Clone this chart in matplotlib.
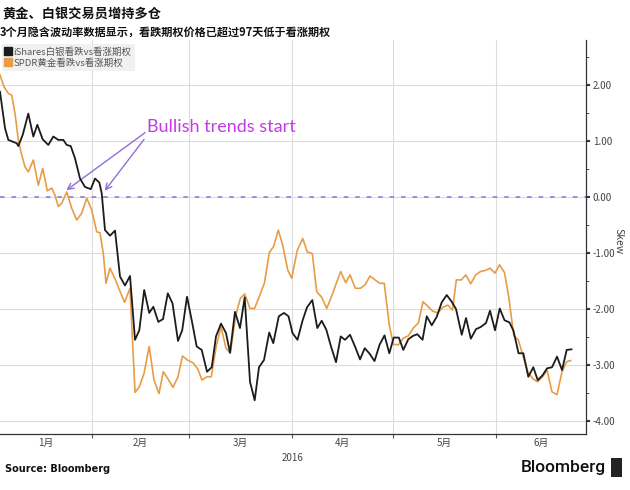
import numpy as np
import pandas as pd
import matplotlib
matplotlib.use("Agg")
import matplotlib.pyplot as plt
from matplotlib.lines import Line2D
from matplotlib.patches import Rectangle

plt.rcParams['font.family'] = ['Noto Sans CJK SC', 'DejaVu Sans']

title = "黄金、白银交易员增持多仓"
subtitle = "3个月隐含波动率数据显示，看跌期权价格已超过97天低于看涨期权"
series_names = ["iShares白银看跌vs看涨期权", "SPDR黄金看跌vs看涨期权"]
month_labels = ["1月", "2月", "3月", "4月", "5月", "6月"]
year_label = "2016"
ylabel = "Skew"
source = "Source: Bloomberg"
annotation = "Bullish trends start"

# days since 2016-01-01 and skew values
silver_days = [3.44, 4.94, 5.93, 8.45, 8.93, 10.24, 11.92, 13.42, 14.62, 16.23, 17.91, 19.41, 20.91,
               22.40, 23.42, 24.62, 25.91, 27.40, 28.90, 30.61, 31.90, 33.18, 33.90, 34.89, 36.39,
               37.89, 39.38, 40.88, 42.38, 43.88, 45.16, 46.63, 48.13, 49.36, 50.86, 52.26, 53.70,
               55.11, 56.75, 58.01, 59.45, 60.86, 62.35, 63.85, 65.44, 66.85, 68.13, 69.63, 71.13,
               72.33, 73.82, 75.32, 76.73, 78.32, 79.72, 81.01, 82.51, 84.07, 85.29, 86.94, 88.50,
               89.85, 91.05, 92.54, 94.04, 95.39, 96.98, 98.47, 99.79, 101.17, 102.58, 104.08,
               105.49, 106.77, 108.27, 109.77, 111.27, 112.67, 114.17, 115.61, 117.11, 118.60,
               120.04, 121.36, 122.89, 124.23, 125.73, 127.14, 128.43, 129.99, 131.25, 132.75,
               134.24, 135.74, 137.24, 138.73, 140.02, 141.73, 143.02, 144.45, 146.01, 147.45,
               149.00, 150.20, 151.70, 153.11, 154.54, 156.04, 157.24, 158.74, 160.17, 161.67,
               163.17, 164.49, 165.98, 167.27, 168.77, 170.27, 171.77, 173.17, 174.61]
silver_vals = [1.88, 1.23, 1.02, 0.96, 0.91, 1.11, 1.49, 1.08, 1.29, 1.03, 0.93, 1.08, 1.02,
               1.02, 0.93, 0.91, 0.69, 0.33, 0.18, 0.14, 0.33, 0.26, 0.07, -0.59, -0.69,
               -0.60, -1.42, -1.58, -1.41, -2.55, -2.38, -1.66, -2.07, -1.96, -2.23, -2.18, -1.72,
               -1.90, -2.57, -2.38, -1.78, -2.20, -2.67, -2.73, -3.12, -3.04, -2.49, -2.26, -2.43,
               -2.78, -2.05, -2.34, -1.79, -3.30, -3.63, -3.04, -2.91, -2.42, -2.61, -2.13, -2.07,
               -2.13, -2.43, -2.55, -2.21, -1.97, -1.84, -2.34, -2.21, -2.37, -2.67, -2.95,
               -2.49, -2.55, -2.46, -2.67, -2.90, -2.70, -2.80, -2.93, -2.64, -2.47,
               -2.79, -2.51, -2.51, -2.73, -2.54, -2.48, -2.45, -2.55, -2.13, -2.29,
               -2.14, -1.88, -1.75, -1.87, -2.00, -2.46, -2.16, -2.53, -2.36, -2.32,
               -2.25, -2.03, -2.38, -1.99, -2.20, -2.24, -2.39, -2.79, -2.79, -3.21,
               -3.04, -3.27, -3.18, -3.06, -3.04, -2.85, -3.09, -2.73, -2.72]

gold_days = [3.44, 4.64, 5.93, 6.95, 7.94, 8.93, 9.94, 10.93, 11.92, 13.42, 14.92, 16.23, 17.61,
             18.93, 19.92, 20.91, 21.92, 23.42, 24.92, 26.42, 27.91, 29.41, 30.91, 32.40, 33.39,
             34.38, 35.19, 36.39, 37.89, 39.23, 40.73, 42.38, 43.88, 45.16, 46.57, 48.13, 49.57,
             51.06, 52.35, 53.76, 55.26, 56.75, 58.10, 59.54, 61.24, 62.68, 63.94, 65.44, 66.73,
             68.22, 69.63, 71.13, 72.42, 73.97, 75.41, 76.73, 78.32, 79.67, 81.01, 82.66, 84.10,
             85.41, 86.79, 88.11, 89.61, 90.81, 92.48, 94.10, 95.48, 96.98, 98.29, 99.79, 101.29,
             102.79, 104.16, 105.48, 106.98, 108.27, 109.86, 111.36, 112.77, 114.26, 115.76,
             117.17, 118.52, 120.04, 121.24, 122.74, 124.23, 125.73, 127.23, 128.73, 130.13,
             131.57, 133.07, 134.57, 136.07, 137.57, 138.97, 140.11, 141.61, 142.96, 144.43,
             145.92, 147.36, 148.86, 150.20, 151.70, 153.05, 154.54, 155.83, 157.33, 158.68,
             160.08, 161.58, 163.08, 164.49, 165.98, 167.27, 168.77, 170.27, 171.77, 173.17, 174.37]
gold_vals = [2.18, 1.97, 1.85, 1.82, 1.49, 1.02, 0.75, 0.54, 0.45, 0.66, 0.21, 0.51, 0.11,
             0.16, 0.03, -0.17, -0.11, 0.09, -0.20, -0.41, -0.29, -0.02, -0.23, -0.62, -0.64,
             -1.01, -1.54, -1.27, -1.46, -1.66, -1.88, -1.63, -3.49, -3.39, -3.15, -2.67, -3.27,
             -3.51, -3.12, -3.25, -3.40, -3.21, -2.84, -2.91, -2.96, -3.07, -3.27, -3.21, -3.21,
             -2.66, -2.32, -2.70, -2.79, -2.14, -1.81, -1.73, -1.99, -1.99, -1.79, -1.53, -0.99,
             -0.88, -0.59, -0.86, -1.30, -1.45, -0.95, -0.74, -0.98, -1.01, -1.69, -1.79, -1.99,
             -1.77, -1.54, -1.33, -1.53, -1.39, -1.63, -1.63, -1.57, -1.41, -1.48,
             -1.54, -1.54, -2.29, -2.63, -2.64, -2.52, -2.48, -2.34, -2.25, -1.87,
             -1.95, -2.04, -2.07, -1.97, -1.93, -2.02, -1.48, -1.48, -1.39, -1.55,
             -1.39, -1.33, -1.31, -1.27, -1.36, -1.21, -1.35, -1.79, -2.48, -2.55,
             -2.84, -3.13, -3.25, -3.30, -3.21, -3.09, -3.48, -3.53, -3.12, -2.94, -2.92]

y_ticks = [2.0, 1.0, 0.0, -1.0, -2.0, -3.0, -4.0]

base = pd.Timestamp("2016-01-01")
def to_dt(days):
    return base + pd.to_timedelta(np.asarray(days), unit="D")

BLACK = "#1c1c1c"
ORANGE = "#e89c45"
GRID = "#dcdcdc"
PURPLE = "#8f6fd8"
MAGENTA = "#c23be6"

fig = plt.figure(figsize=(6.3, 4.9), dpi=100)
ax = fig.add_axes([0.0, 1 - 434 / 490, 586 / 630, (434 - 40) / 490])

x0 = base + pd.Timedelta(days=3.44)
x1 = base + pd.Timedelta(days=178.95)
ax.set_xlim(x0, x1)
ax.set_ylim(-4.232, 2.804)

# grid
month_starts = pd.date_range("2016-02-01", "2016-06-01", freq="MS")
for m in month_starts:
    ax.axvline(m, color=GRID, lw=0.8, zorder=0)
for yv in y_ticks:
    ax.axhline(yv, color=GRID, lw=0.8, zorder=0)

ax.axhline(0, color=PURPLE, lw=1.1, ls=(0, (3, 4.5)), zorder=1)

ax.plot(to_dt(gold_days), gold_vals, color=ORANGE, lw=1.2, zorder=3)
ax.plot(to_dt(silver_days), silver_vals, color=BLACK, lw=1.3, zorder=4)

# axes styling
for s in ["left", "top"]:
    ax.spines[s].set_visible(False)
ax.spines["right"].set_color("#333333")
ax.spines["bottom"].set_color("#333333")
ax.spines["right"].set_linewidth(0.9)
ax.spines["bottom"].set_linewidth(0.9)

ax.yaxis.tick_right()
ax.set_yticks(y_ticks)
ax.set_yticklabels([f"{v:.2f}" for v in y_ticks])
ax.set_yticks(np.arange(-4, 3, 0.5), minor=True)
ax.tick_params(axis="y", which="major", direction="out", length=3, width=1.5,
               colors="#333333", labelsize=7, pad=2, labelcolor="#444444")
ax.tick_params(axis="y", which="minor", direction="out", length=2, width=0.7, colors="#555555")

ax.set_xticks(month_starts)
ax.set_xticklabels([""] * len(month_starts))
mstarts_all = pd.date_range("2016-01-01", "2016-07-01", freq="MS")
label_pos = []
for a, b in zip(mstarts_all[:-1], mstarts_all[1:]):
    lo = max(a, x0)
    hi = min(b, x1)
    label_pos.append(lo + (hi - lo) / 2)
ax.set_xticks(label_pos, minor=True)
ax.set_xticklabels(month_labels, minor=True)
ax.tick_params(axis="x", which="major", direction="out", length=3, width=0.8, colors="#555555")
ax.tick_params(axis="x", which="minor", length=0, labelsize=7, pad=3, labelcolor="#444444")

ax.text(1.055, 0.49, ylabel, transform=ax.transAxes, rotation=270, fontsize=7.5,
        color="#444444", ha="center", va="center")
fig.text(293 / 630, 1 - 458 / 490, year_label, fontsize=7, color="#444444",
         ha="center", va="center")

# legend
handles = [Line2D([], [], marker="s", color=BLACK, ls="none", markersize=5.5),
           Line2D([], [], marker="s", color=ORANGE, ls="none", markersize=5.5)]
leg = ax.legend(handles, series_names, loc="upper left", bbox_to_anchor=(0.0, 0.995),
                fontsize=6.8, frameon=True, handlelength=0.6, handletextpad=0.3,
                borderpad=0.35, labelspacing=0.15, borderaxespad=0.2, fancybox=False)
leg.get_frame().set_facecolor("#eeeeee")
leg.get_frame().set_edgecolor("none")
for t in leg.get_texts():
    t.set_color("#555555")

# annotation
ax.text(base + pd.Timedelta(days=47.6), 1.25, annotation, color=MAGENTA, fontsize=13,
        family=["Lato", "DejaVu Sans"], ha="left", va="center")
for tail, tip in [((46.9, 1.15), (23.3, 0.12)), ((46.6, 1.03), (34.8, 0.11))]:
    ax.annotate("", xy=(base + pd.Timedelta(days=tip[0]), tip[1]),
                xytext=(base + pd.Timedelta(days=tail[0]), tail[1]),
                arrowprops=dict(arrowstyle="->", color=PURPLE, lw=1.0,
                                mutation_scale=11, shrinkA=0, shrinkB=0))

# titles
fig.text(2 / 630, 1 - 14 / 490, title, fontsize=9.5, fontweight="bold", color="#111111",
         ha="left", va="center")
fig.text(0 / 630, 1 - 32 / 490, subtitle, fontsize=8, fontweight="bold", color="#111111",
         ha="left", va="center")

# footer
fig.text(5 / 630, 1 - 469 / 490, source, fontsize=7, fontweight="bold", color="#111111",
         ha="left", va="center", family=["DejaVu Sans"])
fig.text(606 / 630, 1 - 467 / 490, "Bloomberg", fontsize=12.5, color="#111111",
         ha="right", va="center", family=["Roboto", "DejaVu Sans"], fontweight="medium")
fig.patches.append(Rectangle((611 / 630, 1 - 477 / 490), 11 / 630, 19 / 490,
                             transform=fig.transFigure, facecolor="#222222",
                             edgecolor="none", figure=fig))

fig.savefig("out.png", dpi=100, facecolor="white")
